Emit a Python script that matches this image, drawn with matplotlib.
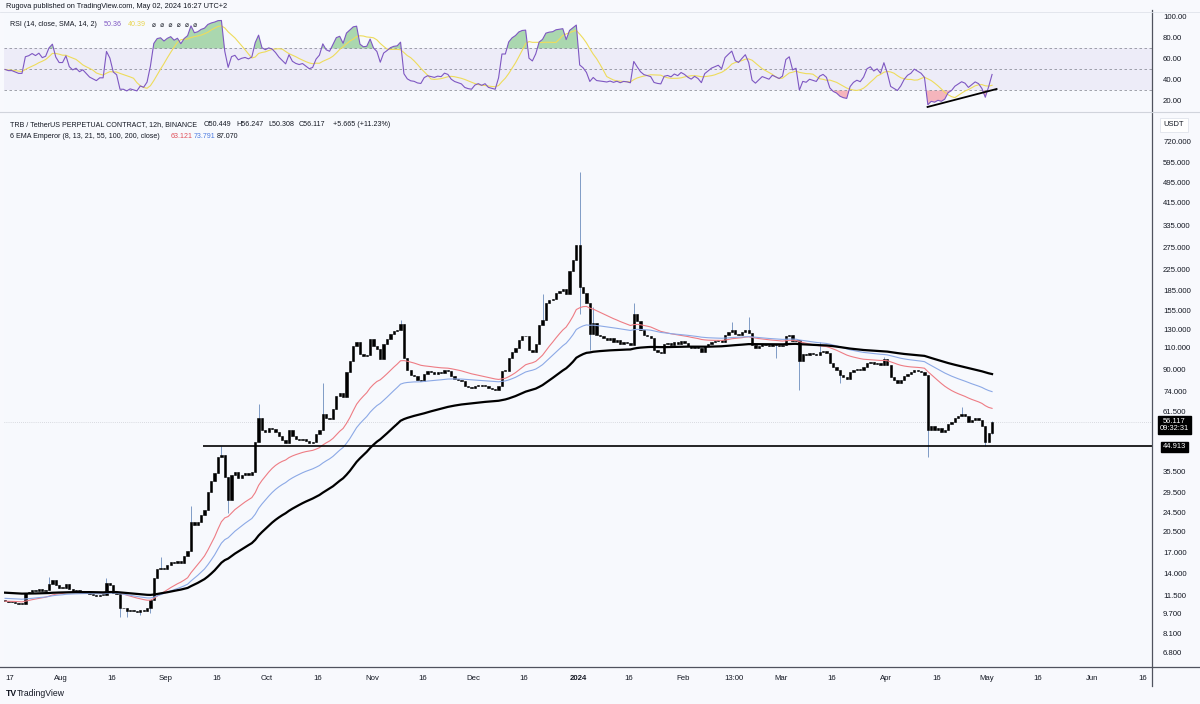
import numpy as np
import pandas as pd
import matplotlib
matplotlib.use("Agg")
import matplotlib.pyplot as plt
import matplotlib.dates as mdates
from matplotlib.lines import Line2D

plt.rcParams['font.family'] = ['Liberation Sans', 'DejaVu Sans']

# ---------------- data (daily closes) ----------------
start = "2023-07-15"
close_jul = [10.9, 10.8, 10.8, 10.7, 10.6, 10.6, 11.8, 11.9, 12.1, 12.0, 12.2, 12.0, 12.1, 12.8, 13.2, 12.6, 12.3]
close_aug = [12.3, 12.8, 12.2, 12.0, 12.1, 11.9, 12.0, 11.8, 11.6, 11.5, 11.4, 11.5, 11.5, 12.9, 12.6, 11.8,
             11.6, 10.2, 10.2, 10.0, 10.1, 10.0, 9.9, 10.1, 10.0, 10.2, 11.0, 13.5, 14.6, 14.8, 14.6]
close_sep = [15.2, 15.6, 15.4, 15.8, 15.5, 16.5, 17.2, 22.5, 21.8, 22.4, 24.0, 25.0, 29.5, 32.5, 35.0,
             40.5, 41.5, 34.0, 27.5, 34.5, 35.5, 33.5, 34.5, 35.0, 34.5, 35.5, 46.5, 58.0, 52.0, 51.0]
close_oct = [53, 52.5, 51, 49, 47.5, 46, 52, 49, 48, 47.5, 48, 47, 46, 46.5, 50, 52, 60, 58, 57.5, 63,
             71, 73, 70.5, 88, 98, 112, 116, 104, 102, 103, 119]
close_nov = [112, 109, 99, 114, 119, 125, 128, 129, 137, 100, 90, 86, 85, 82, 81, 87, 89, 88, 87, 88,
             87.5, 90, 89, 85, 83, 82, 81, 78, 77, 76.5]
close_dec = [78, 78.5, 77.5, 78, 76, 75.5, 75, 78, 89, 89, 100, 106, 110, 118, 122, 123, 108, 106, 114,
             135, 142, 165, 170, 172, 182, 185, 188, 180, 222, 245, 280]
close_jan = [192, 182, 165, 125, 138, 124, 122, 120, 118, 120, 116, 118, 114, 116, 115, 113, 150, 140,
             130, 124, 122, 120, 108, 106, 105, 114, 115, 113, 116, 114, 117]
close_feb = [115, 112, 110, 112, 110, 106, 112, 114, 116, 117, 118, 116, 124, 127, 130, 125, 124, 127,
             130, 126, 113, 110, 112, 114, 113, 112, 114, 113, 112]
close_mar = [113, 122, 124, 117, 118, 98, 104, 103, 105, 104, 103, 106, 107, 105, 96, 92, 90, 86, 84,
             83, 88, 90, 91, 90, 92, 96, 97, 95, 96, 94, 99]
close_apr = [94, 84, 82, 80, 82, 85, 87, 88, 90, 89, 88, 86, 52, 54, 52, 53, 51, 52, 55, 56, 58, 59, 60,
             59, 56, 57, 58, 57, 54, 46.5]
close_may = [50.449, 56.117]
first_open = 11.0

wick_high = {"2023-07-28": 13.6, "2023-08-14": 13.5, "2023-08-30": 16.3, "2023-09-08": 26.0,
             "2023-09-17": 44.9, "2023-09-28": 66.0, "2023-10-17": 80.0, "2023-11-09": 142.0,
             "2023-12-21": 180.0, "2024-01-01": 548.0, "2024-01-05": 160.0, "2024-01-17": 166.0,
             "2024-02-15": 139.0, "2024-02-20": 146.0, "2024-03-12": 116.0, "2024-03-31": 101.0,
             "2024-04-23": 64.0, "2024-05-02": 56.247}
wick_low = {"2023-08-18": 9.4, "2023-08-20": 9.4, "2023-08-24": 9.6, "2023-08-27": 9.8,
            "2023-09-19": 24.3, "2024-01-01": 150.0, "2024-01-04": 108.0, "2024-02-28": 100.0,
            "2024-03-06": 75.0, "2024-03-18": 80.0, "2024-04-13": 40.7, "2024-04-30": 44.913,
            "2024-05-02": 50.308}

support_level = 44.913
support_start = "2023-09-12"
last_price = 56.117
rsi_trend_dates = ["2024-04-13 10:00", "2024-05-03 20:00"]
rsi_trend_values = [14.3, 31.4]

price_ticks = [6.8, 8.1, 9.7, 11.5, 14, 17, 20.5, 24.5, 29.5, 35.5, 61.5, 74, 90, 110, 130, 155,
               185, 225, 275, 335, 415, 495, 595, 720]
rsi_ticks = [20, 40, 60, 80, 100]
date_ticks = ["2023-07-17", "2023-08-01", "2023-08-16", "2023-09-01", "2023-09-16", "2023-10-01",
              "2023-10-16", "2023-11-01", "2023-11-16", "2023-12-01", "2023-12-16", "2024-01-01",
              "2024-01-16", "2024-02-01", "2024-02-16 06:00", "2024-03-01", "2024-03-16", "2024-04-01",
              "2024-04-16", "2024-05-01", "2024-05-16", "2024-06-01", "2024-06-16"]
date_labels = ["17", "Aug", "16", "Sep", "16", "Oct", "16", "Nov", "16", "Dec", "16", "2024", "16",
               "Feb", "13:00", "Mar", "16", "Apr", "16", "May", "16", "Jun", "16"]

# ---------------- derived series ----------------
closes = np.array(close_jul + close_aug + close_sep + close_oct + close_nov + close_dec +
                  close_jan + close_feb + close_mar + close_apr + close_may, dtype=float)
n = len(closes)
t0 = pd.Timestamp(start)
dates = t0 + pd.to_timedelta(np.arange(n) + 0.5, unit="D")
xd = mdates.date2num(dates)
opens = np.r_[first_open, closes[:-1]]
highs = np.maximum(opens, closes)
lows = np.minimum(opens, closes)
for d, v in wick_high.items():
    k = (pd.Timestamp(d) - t0).days
    highs[k] = max(highs[k], v)
for d, v in wick_low.items():
    k = (pd.Timestamp(d) - t0).days
    lows[k] = min(lows[k], v)


def ema(values, span, seed):
    a = 2.0 / (span + 1.0)
    out = np.empty_like(values)
    prev = seed
    for k, v in enumerate(values):
        prev = prev + a * (v - prev)
        out[k] = prev
    return out


def rsi_calc(values, length, seed_move):
    g = l = seed_move
    out = np.empty_like(values)
    out[0] = 50.0
    for k in range(1, len(values)):
        dlt = values[k] - values[k - 1]
        g = g + (max(dlt, 0) - g) / length
        l = l + (max(-dlt, 0) - l) / length
        out[k] = 100.0 if l == 0 else 100 - 100 / (1 + g / l)
    return out


def to_num(strings):
    return [mdates.date2num(pd.Timestamp(s_)) for s_ in strings]


# 12h EMA lengths 55 / 100 / 200 expressed on daily bars
ema55 = ema(closes, 27.5, 10.9)
ema100 = ema(closes, 50.0, 11.2)
ema200 = ema(closes, 100.0, 11.8)

rsi = rsi_calc(closes, 10, 0.25)
rsi_sma = pd.Series(rsi).rolling(9, min_periods=1).mean().values

# ---------------- figure ----------------
W, H = 1200, 704
fig = plt.figure(figsize=(W / 100, H / 100), dpi=100)
fig.patch.set_facecolor("#F8F9FD")
BG = "#F7F9FD"
TXT = "#131722"


def fxy(x, y):
    return x / W, 1 - y / H


L, R = 4, 1152
ax_rsi = fig.add_axes([L / W, 1 - 110 / H, (R - L) / W, (110 - 13) / H])
ax = fig.add_axes([L / W, 1 - 667 / H, (R - L) / W, (667 - 114) / H])

x_left = mdates.date2num(pd.Timestamp("2023-07-15 04:18"))
x_right = mdates.date2num(pd.Timestamp("2024-06-18 19:41"))

for a in (ax, ax_rsi):
    a.set_facecolor(BG)
    for sp in a.spines.values():
        sp.set_visible(False)
    a.set_xlim(x_left, x_right)
    a.yaxis.tick_right()
    a.tick_params(axis="y", length=0, pad=8, labelsize=5.6, labelcolor=TXT)

# ---- price pane ----
ax.set_yscale("log")
ax.set_ylim(5.98, 929)
ax.set_yticks(price_ticks)
ax.set_yticklabels([f"{v:.3f}" for v in price_ticks])
ax.set_yticks([], minor=True)

ax.vlines(xd, lows, highs, color="#7F9CC6", lw=0.7, zorder=2)
body_lo = np.minimum(opens, closes)
body_hi = np.maximum(opens, closes)
body_hi = np.maximum(body_hi, body_lo * 1.008)
ax.bar(xd, body_hi - body_lo, bottom=body_lo, width=0.68, color="black", edgecolor="black",
       linewidth=0.4, zorder=3)

ax.plot(xd, ema55, color="#EE7C84", lw=0.8, zorder=4)
ax.plot(xd, ema100, color="#8CA9E6", lw=0.8, zorder=4)
ax.plot(xd, ema200, color="black", lw=1.6, zorder=4)

ax.hlines(support_level, mdates.date2num(pd.Timestamp(support_start)), x_right, color="black",
          lw=1.2, zorder=5)
ax.axhline(last_price, color="#9598A1", lw=0.5, ls=(0, (1, 2)), alpha=0.6, zorder=1)

ax.set_xticks(to_num(date_ticks))
ax.set_xticklabels(date_labels)
ax.tick_params(axis="x", length=0, pad=6, labelsize=5.6, labelcolor=TXT)
for lab in ax.get_xticklabels():
    if lab.get_text() == "2024":
        lab.set_fontweight("bold")

# ---- RSI pane ----
ax_rsi.set_ylim(11.4, 103.8)
ax_rsi.set_yticks(rsi_ticks)
ax_rsi.set_yticklabels([f"{v:.2f}" for v in rsi_ticks])
ax_rsi.set_xticks([])
ax_rsi.axhspan(30, 70, color="#7E57C2", alpha=0.08, lw=0)
for lvl in (70, 50, 30):
    ax_rsi.axhline(lvl, color="#787B86", lw=0.6, ls=(0, (3, 3)), alpha=0.8)
ax_rsi.fill_between(xd, rsi, 70, where=rsi > 70, interpolate=True, color="#4CAF50", alpha=0.45, lw=0)
ax_rsi.fill_between(xd, rsi, 30, where=rsi < 30, interpolate=True, color="#F23645", alpha=0.35, lw=0)
ax_rsi.plot(xd, rsi_sma, color="#EEDC5B", lw=0.8, zorder=3)
ax_rsi.plot(xd, rsi, color="#7E57C2", lw=0.8, zorder=4)
ax_rsi.plot(to_num(rsi_trend_dates), rsi_trend_values, color="black", lw=1.3, zorder=5)

# ---- frame lines ----
fig.add_artist(Line2D([R / W, R / W], [1 - 10 / H, 1 - 686 / H], color="#50535E", lw=0.9))
fig.add_artist(Line2D([0, 1], [1 - 667 / H, 1 - 667 / H], color="#50535E", lw=0.9))
fig.add_artist(Line2D([0, 1], [1 - 112 / H, 1 - 112 / H], color="#D1D4DC", lw=0.8))
fig.add_artist(Line2D([0, 1], [1 - 12 / H, 1 - 12 / H], color="#E0E3EB", lw=0.6))

# ---- texts ----
FS = 5.1
fig.text(*fxy(6, 7), "Rugova published on TradingView.com, May 02, 2024 16:27 UTC+2", fontsize=5.3,
         color=TXT, va="center")
fig.text(*fxy(10, 25), "RSI (14, close, SMA, 14, 2)", fontsize=FS, color=TXT, va="center")
fig.text(*fxy(104, 25), "50.36", fontsize=FS, color="#7E57C2", va="center")
fig.text(*fxy(128, 25), "40.39", fontsize=FS, color="#E8D44D", va="center")
fig.text(*fxy(152, 25), "\u2300  \u2300  \u2300  \u2300  \u2300  \u2300", fontsize=FS - 0.3, color=TXT,
         va="center", family=["DejaVu Sans"])

fig.text(*fxy(10, 125), "TRB / TetherUS PERPETUAL CONTRACT, 12h, BINANCE", fontsize=FS, color=TXT,
         va="center")
for xx, s_ in [(204, "O50.449"), (236, "H56.247"), (268, "L50.308"), (299, "C56.117"),
               (333, "+5.665 (+11.23%)")]:
    fig.text(*fxy(xx, 125), s_, fontsize=FS, color=TXT, va="center")
fig.text(*fxy(10, 136), "6 EMA Emperor (8, 13, 21, 55, 100, 200, close)", fontsize=FS, color=TXT,
         va="center")
fig.text(*fxy(171, 136), "63.121", fontsize=FS, color="#E0505A", va="center")
fig.text(*fxy(194, 136), "73.791", fontsize=FS, color="#4C7BE0", va="center")
fig.text(*fxy(217, 136), "87.070", fontsize=FS, color=TXT, va="center")

# axis boxes
fig.text(*fxy(1174, 125), "USDT", fontsize=5.4, color=TXT, ha="center", va="center",
         bbox=dict(boxstyle="square,pad=0.45", fc="white", ec="#E0E3EB", lw=0.6))
fig.text(*fxy(1174, 425), "56.117\n09:32:31", fontsize=5.4, color="white", ha="center", va="center",
         linespacing=1.0, bbox=dict(boxstyle="square,pad=0.25", fc="black", ec="black"))
fig.text(*fxy(1174, 447), "44.913", fontsize=5.4, color="white", ha="center", va="center",
         bbox=dict(boxstyle="square,pad=0.25", fc="black", ec="black"))

fig.text(*fxy(6, 693), "TV", fontsize=6.2, color=TXT, va="center", fontweight="bold")
fig.text(*fxy(17, 693), "TradingView", fontsize=6.2, color=TXT, va="center")

fig.savefig("out.png", dpi=100, facecolor=fig.get_facecolor())
